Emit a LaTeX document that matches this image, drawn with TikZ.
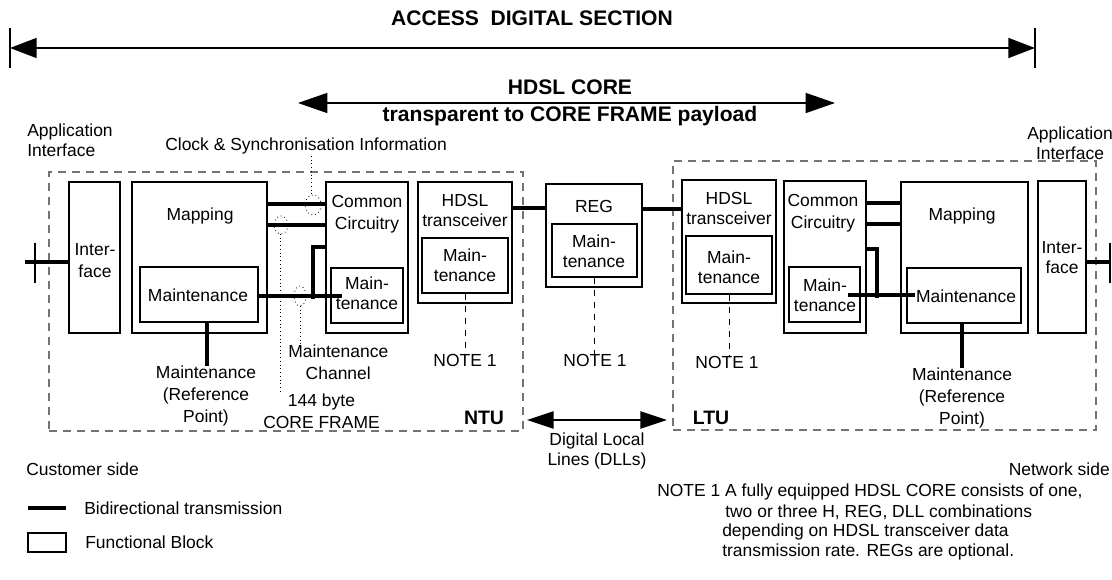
\documentclass[tikz,border=0pt]{standalone}
\usepackage{fontspec}
\setmainfont{Liberation Sans}
\usetikzlibrary{arrows.meta,fit,calc}
\begin{document}
\begin{tikzpicture}[x=0.75pt,y=-0.75pt,
  every node/.style={inner sep=0pt, font=\fontsize{13.1}{15}\selectfont},
  fbox/.style={draw, line width=1.1pt, inner sep=0pt},
  unitbox/.style={draw=black!55, line width=0.8pt, dash pattern=on 6pt off 4.5pt, inner sep=0pt},
  bidir/.style={line width=3pt},
  bar/.style={line width=1.2pt},
  notel/.style={line width=0.6pt, dash pattern=on 5pt off 4pt},
  dotl/.style={line width=0.6pt, dash pattern=on 0.6pt off 2.2pt},
  ml/.style={align=center, font=\fontsize{13.1}{16.5}\selectfont},
  mlt/.style={align=center, font=\fontsize{13.1}{15}\selectfont},
  ttl/.style={font=\bfseries\fontsize{15.8}{18}\selectfont},
  unitlbl/.style={font=\bfseries\fontsize{14.6}{16}\selectfont},
  bigarrow/.style={line width=1.1pt, {Triangle[length=20pt,width=15pt]}-{Triangle[length=20pt,width=15pt]}},
  corearrow/.style={line width=1.1pt, {Triangle[length=22pt,width=15pt]}-{Triangle[length=22pt,width=15pt]}},
  dllarrow/.style={line width=1.1pt, {Triangle[length=20pt,width=13pt]}-{Triangle[length=20pt,width=13pt]}},
]
\useasboundingbox (0,0) rectangle (1112,580);

% ---------- top arrows and titles
\node[ttl] (title) at (532,18) {ACCESS\ \ DIGITAL SECTION};
\coordinate (adsL) at (10,48);
\coordinate (adsR) at (1035,48);
\draw[bigarrow] (adsL) -- (adsR);
\draw[bar] (10,28) -- (10,68);
\draw[bar] (1035,28) -- (1035,68);

\node[ttl] (core1) at (570,87) {HDSL CORE};
\node[ttl] (core2) at (570,116) {transparent to CORE FRAME payload};
\coordinate (coreL) at (298,103);
\coordinate (coreR) at (835,103);
\draw[corearrow] (coreL) -- (coreR);

\node[align=left, anchor=west] (appL) at (27,140) {Application\\Interface};
\node[mlt] (appR) at (1070,143) {Application\\Interface};
\node[anchor=west] (clock) at (165,146) {Clock \& Synchronisation Information};

% ---------- unit boxes
\node[unitbox, fit={(49,172) (523,431)}] (ntu) {};
\node[unitbox, fit={(673,161) (1096,430)}] (ltu) {};

% ---------- NTU blocks
\node[fbox, fit={(69,182) (120,333)}] (ifL) {};
\node[fbox, fit={(132,182) (267,333)}] (mapL) {};
\node[fbox, fit={(140,267) (258,322)}] (mmL) {};
\node[fbox, fit={(326,182) (408,333)}] (ccL) {};
\node[fbox, fit={(331,268) (403,323)}] (cmL) {};
\node[fbox, fit={(418,182) (512,303)}] (hL) {};
\node[fbox, fit={(422,238) (508,293)}] (hmL) {};
% REG
\node[fbox, fit={(546,184) (642,287)}] (reg) {};
\node[fbox, fit={(552,224) (637,277)}] (regm) {};
% LTU blocks
\node[fbox, fit={(682,180) (776,303)}] (hR) {};
\node[fbox, fit={(686,236) (772,294)}] (hmR) {};
\node[fbox, fit={(784,181) (866,333)}] (ccR) {};
\node[fbox, fit={(789,267) (860,322)}] (cmR) {};
\node[fbox, fit={(901,182) (1028,333)}] (mapR) {};
\node[fbox, fit={(907,268) (1021,323)}] (mmR) {};
\node[fbox, fit={(1038,181) (1086,333)}] (ifR) {};

% ---------- block texts
\node[ml] (tIfL) at (95,261) {Inter-\\face};
\node (tMapL) at (200,216) {Mapping};
\node (tMmL) at (198,295) {Maintenance};
\node[ml] (tCcL) at (367,214) {Common\\Circuitry};
\node[mlt] (tCmL) at (367,293) {Main-\\tenance};
\node[mlt] (tHL) at (465,210) {HDSL\\transceiver};
\node[mlt] (tHmL) at (465,265) {Main-\\tenance};
\node (tReg) at (594,206) {REG};
\node[mlt] (tRegm) at (594,251) {Main-\\tenance};
\node[mlt] (tHR) at (729,208) {HDSL\\transceiver};
\node[mlt] (tHmR) at (729,267) {Main-\\tenance};
\node[ml] (tCcR) at (823,213) {Common\\Circuitry};
\node[mlt] (tCmR) at (825,295) {Main-\\tenance};
\node (tMapR) at (962,216) {Mapping};
\node (tMmR) at (966,296) {Maintenance};
\node[mlt] (tIfR) at (1062,258) {Inter-\\face};

% ---------- bidirectional transmission lines
\coordinate (pL) at (25,262);
\draw[bidir] (ifL.west |- pL) -- (pL);
\draw[bar] (35,243) -- (35,283);
\draw[bidir] (mapL.east |- 0,204) -- (ccL.west |- 0,204);
\draw[bidir] (mapL.east |- 0,225) -- (ccL.west |- 0,225);
\coordinate (mEndL) at (342,296);
\draw[bidir] (mmL.east |- mEndL) -- (mEndL);
\draw[bidir] (313,299) -- (313,247) -- (ccL.west |- 0,247);
\draw[bidir] (hL.east |- 0,208) -- (reg.west |- 0,208);
\draw[bidir] (reg.east |- 0,209) -- (hR.west |- 0,209);
\draw[bidir] (ccR.east |- 0,203) -- (mapR.west |- 0,203);
\draw[bidir] (ccR.east |- 0,224) -- (mapR.west |- 0,224);
\coordinate (mStR) at (848,295);
\coordinate (mEndR) at (915,295);
\draw[bidir] (mStR) -- (mEndR);
\draw[bidir] (877,298) -- (877,249) -- (ccR.east |- 0,249);
\coordinate (pR) at (1110,262);
\draw[bidir] (ifR.east |- pR) -- (pR);
\draw[bar] (1110,243) -- (1110,283);

% maintenance reference points
\node[ml] (refL) at (206,396) {Maintenance\\(Reference\\Point)};
\node[ml] (refR) at (962,398) {Maintenance\\(Reference\\Point)};
\draw[bidir] (mmL.south -| 207,0) -- (refL.north -| 207,0);
\draw[bidir] (mmR.south -| 962,0) -- (refR.north -| 962,0);

% ---------- NOTE 1 labels
\node (n1) at (465,360) {NOTE 1};
\node (n2) at (595,360) {NOTE 1};
\node (n3) at (727,362) {NOTE 1};
\draw[notel] (hmL.south) -- (n1.north -| hmL.south);
\draw[notel] (regm.south) -- (n2.north -| regm.south);
\draw[notel] (hmR.south) -- (729,356);

% ---------- dotted information lines
\node[ml, anchor=west] (mch) at (288,362) {Maintenance\\Channel};
\node[ml, anchor=west] (cf) at (263,411) {144 byte\\CORE FRAME};
\draw[dotl] (311,156) -- (311,196);
\draw[dotl] (313,205) ellipse [x radius=8, y radius=10];
\draw[dotl] (281,225) ellipse [x radius=7, y radius=9];
\draw[dotl] (280,234) -- (cf.north west -| 280,0);
\draw[dotl] (300,296) ellipse [x radius=6, y radius=10];
\draw[dotl] (300,306) -- (mch.north west -| 300,0);

% ---------- unit labels and DLL
\node[unitlbl] (ntuT) at (484,418) {NTU};
\node[unitlbl] (ltuT) at (711,418) {LTU};
\coordinate (dllL) at (527,420);
\coordinate (dllR) at (667,420);
\draw[dllarrow] (dllL) -- (dllR);
\node[mlt] (dllT) at (597,451) {Digital Local\\Lines (DLLs)};

% ---------- sides and legend
\node[anchor=west] (cust) at (26,469) {Customer side};
\node[anchor=east] (netw) at (1110,469) {Network side};
\coordinate (lg1) at (28,508);
\coordinate (lg2) at (66,508);
\draw[bidir] (lg1) -- (lg2);
\node[anchor=west] (lgT1) at (84,508) {Bidirectional transmission};
\node[fbox, fit={(28,533) (66,552)}] (lgBox) {};
\node[anchor=west] (lgT2) at (85,542) {Functional Block};

\node[anchor=west] (note1) at (657,492) {NOTE 1 A fully equipped HDSL CORE consists of one,};
\node[anchor=west] (note2) at (725,512) {two or three H, REG, DLL combinations};
\node[anchor=west] (note3) at (722,532) {depending on HDSL transceiver data};
\node[anchor=west] (note4) at (722,552) {transmission rate. REGs are optional.};
\end{tikzpicture}
\end{document}
